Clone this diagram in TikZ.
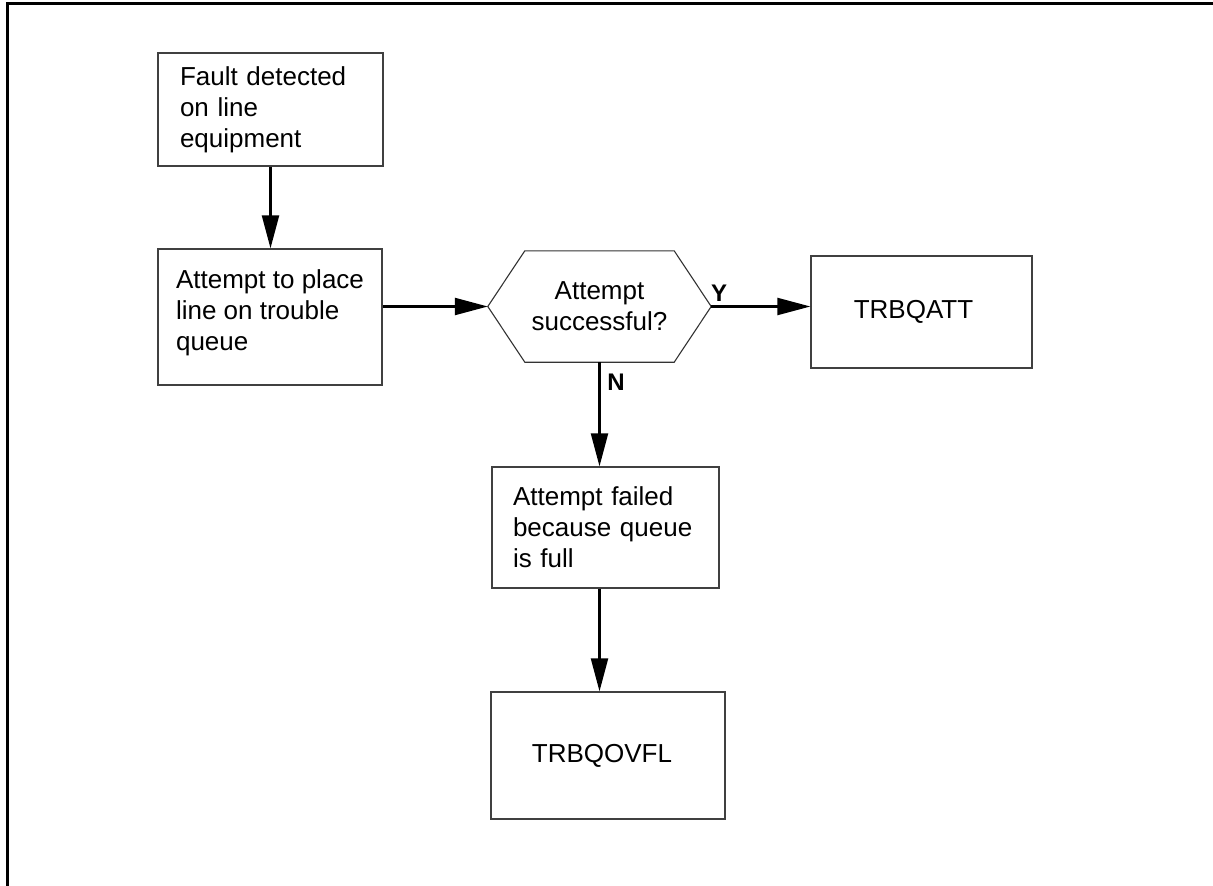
\documentclass[tikz,border=0pt]{standalone}
\usepackage{fontspec}
\setmainfont{Liberation Sans}
\usetikzlibrary{arrows.meta,calc}
\begin{document}
\begin{tikzpicture}[x=1pt,y=-1pt,
  box/.style={draw=black!75,line width=1.3pt,minimum width=#1,align=left,inner sep=0pt,
    font=\fontsize{26}{31}\selectfont},
  flow/.style={line width=2.2pt,-{Triangle[length=33pt,width=17pt]}},
  yn/.style={font=\fontsize{24}{28}\selectfont\bfseries,inner sep=0pt}]
\useasboundingbox (0,0) rectangle (1213,886);
\draw[line width=3pt] (7,886) -- (7,3.5) -- (1213,3.5);
\node[box=225pt,minimum height=113pt,text width=181pt] (b1) at (270.5,109.5) {Fault detected\\on line\\equipment};
\node[box=224pt,minimum height=136pt] (b2) at (270,317) {Attempt to place\\line on trouble\\queue\\[-17pt]};
\node[minimum width=223pt,minimum height=111pt,inner sep=0pt,align=center,
  font=\fontsize{26}{31}\selectfont] (dec) at (599.5,306.5) {Attempt\\successful?};
\draw[black!80,line width=1.1pt] (dec.west) -- ($(dec.north west)+(37,0)$) -- ($(dec.north east)+(-37,0)$)
  -- (dec.east) -- ($(dec.south east)+(-37,0)$) -- ($(dec.south west)+(37,0)$) -- cycle;
\node[box=221pt,minimum height=112pt] (b3) at (921.5,312) {\hspace*{-16pt}TRBQATT};
\node[box=227pt,minimum height=121pt,text width=185pt] (b4) at (605.5,527.5) {Attempt failed\\because queue\\is full};
\node[box=234pt,minimum height=127pt] (b5) at (608,755.5) {\hspace*{-12pt}TRBQOVFL};
\node[yn] (ylab) at (719,293) {Y};
\node[yn] (nlab) at (616,382) {N};
\draw[flow] (b1.south) -- (b1.south |- b2.north);
\draw[flow] (b2.east |- dec.west) -- (dec.west);
\draw[flow] (dec.east) -- (b3.west |- dec.east);
\draw[flow] (dec.south) -- (dec.south |- b4.north);
\draw[flow] (dec.south |- b4.south) -- (dec.south |- b5.north);
\end{tikzpicture}
\end{document}
